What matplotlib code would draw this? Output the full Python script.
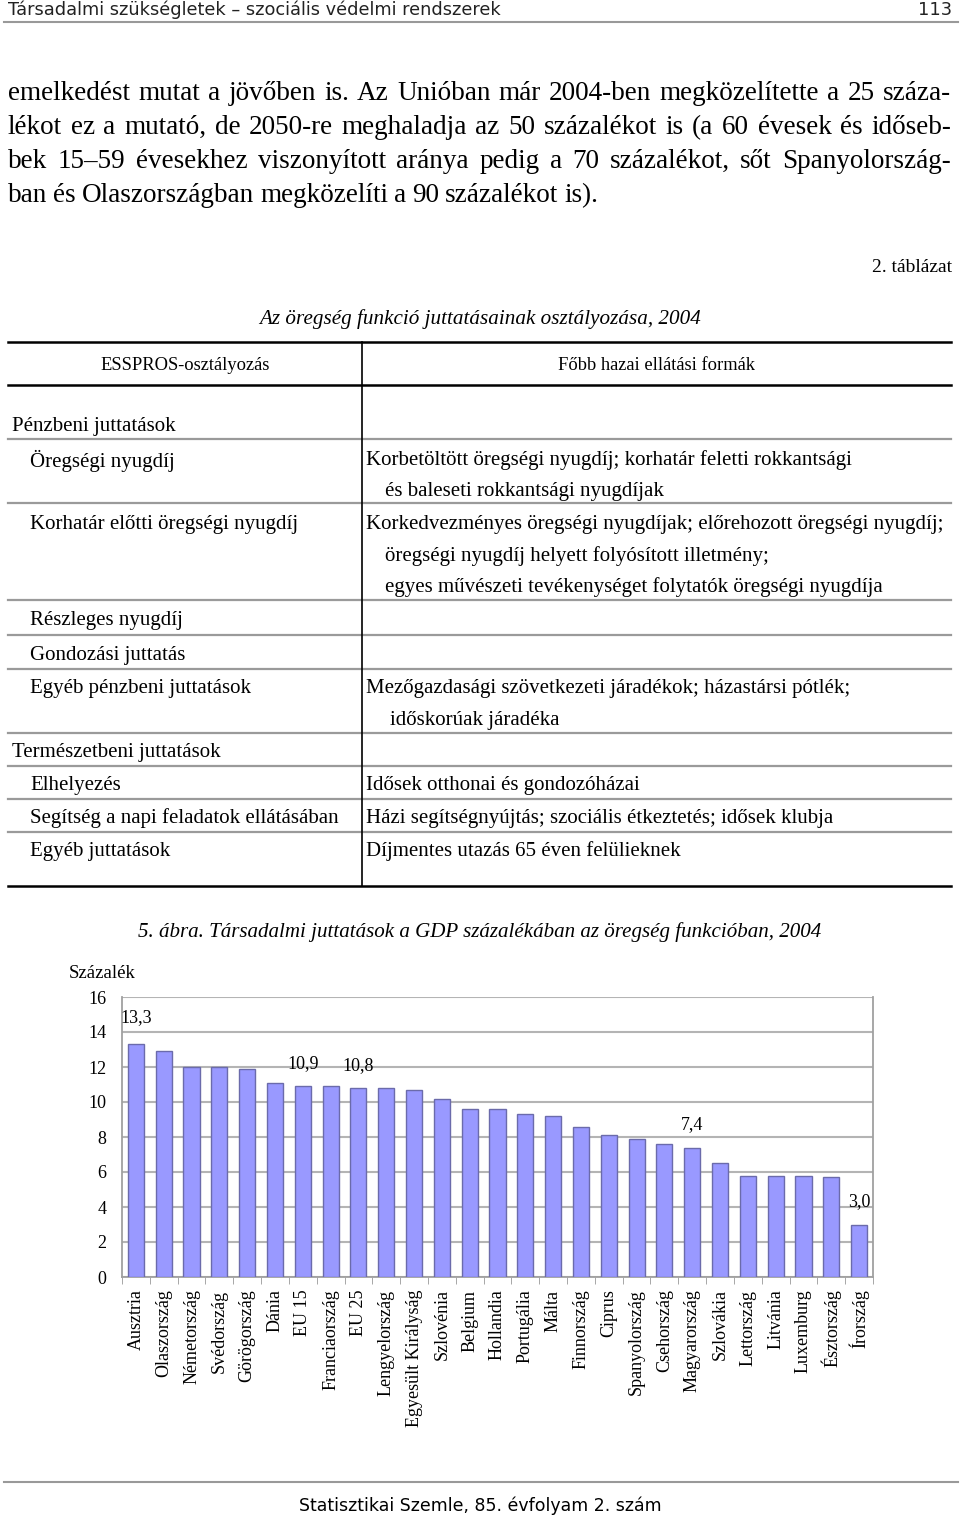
import matplotlib
matplotlib.use("Agg")
import matplotlib.pyplot as plt
from matplotlib.lines import Line2D
import numpy as np

W, H = 960, 1521

# --- adatok ---
countries = ["Ausztria", "Olaszország", "Németország", "Svédország", "Görögország",
             "Dánia", "EU 15", "Franciaország", "EU 25", "Lengyelország",
             "Egyesült Királyság", "Szlovénia", "Belgium", "Hollandia", "Portugália",
             "Málta", "Finnország", "Ciprus", "Spanyolország", "Csehország",
             "Magyarország", "Szlovákia", "Lettország", "Litvánia", "Luxemburg",
             "Észtország", "Írország"]
values = [13.3, 12.9, 12.0, 12.0, 11.9, 11.1, 10.9, 10.9, 10.8, 10.8,
          10.7, 10.2, 9.6, 9.6, 9.3, 9.2, 8.6, 8.1, 7.9, 7.6,
          7.4, 6.5, 5.8, 5.8, 5.8, 5.7, 3.0]
labelled = ["Ausztria", "EU 15", "EU 25", "Magyarország", "Írország"]
yticks = [0, 2, 4, 6, 8, 10, 12, 14, 16]

paragraph = [
    "emelkedést mutat a jövőben is. Az Unióban már 2004-ben megközelítette a 25 száza-",
    "lékot ez a mutató, de 2050-re meghaladja az 50 százalékot is (a 60 évesek és időseb-",
    "bek 15–59 évesekhez viszonyított aránya pedig a 70 százalékot, sőt Spanyolország-",
    "ban és Olaszországban megközelíti a 90 százalékot is).",
]

# (szöveg, x, y) a táblázat cellái
left_col = [("Pénzbeni juttatások", 12, 425), ("Öregségi nyugdíj", 30, 459),
            ("Korhatár előtti öregségi nyugdíj", 30, 523), ("Részleges nyugdíj", 30, 619),
            ("Gondozási juttatás", 30, 654), ("Egyéb pénzbeni juttatások", 30, 687),
            ("Természetbeni juttatások", 12, 751), ("Elhelyezés", 30, 784),
            ("Segítség a napi feladatok ellátásában", 30, 817), ("Egyéb juttatások", 30, 850)]
right_col = [("Korbetöltött öregségi nyugdíj; korhatár feletti rokkantsági", 366, 459),
             ("és baleseti rokkantsági nyugdíjak", 385, 490),
             ("Korkedvezményes öregségi nyugdíjak; előrehozott öregségi nyugdíj;", 366, 523),
             ("öregségi nyugdíj helyett folyósított illetmény;", 385, 555),
             ("egyes művészeti tevékenységet folytatók öregségi nyugdíja", 385, 586),
             ("Mezőgazdasági szövetkezeti járadékok; házastársi pótlék;", 366, 687),
             ("időskorúak járadéka", 390, 719),
             ("Idősek otthonai és gondozóházai", 366, 784),
             ("Házi segítségnyújtás; szociális étkeztetés; idősek klubja", 366, 817),
             ("Díjmentes utazás 65 éven felülieknek", 366, 850)]
row_lines = [439, 503, 600, 635, 669, 733, 766, 799, 832]

serif = "Liberation Serif"
fig = plt.figure(figsize=(W / 100, H / 100), dpi=100)


def fx(x):
    return x / W


def fy(y):
    return 1 - y / H


def hline(y, x0, x1, color, lw):
    fig.add_artist(Line2D([fx(x0), fx(x1)], [fy(y), fy(y)], color=color, lw=lw,
                          transform=fig.transFigure))


def txt(x, y, s, size, **kw):
    kw.setdefault("family", serif)
    kw.setdefault("va", "center")
    return fig.text(fx(x), fy(y), s, fontsize=size, **kw)


# fejléc / lábléc
txt(8, 10, "Társadalmi szükségletek – szociális védelmi rendszerek", 12.8, family="DejaVu Sans", color="#222222")
txt(952, 10, "113", 12.8, family="DejaVu Sans", ha="right", color="#222222")
hline(22, 4, 958, "#999999", 1.5)
hline(1482, 4, 958, "#999999", 1.5)
txt(480, 1506, "Statisztikai Szemle, 85. évfolyam 2. szám", 12.5, family="DejaVu Sans", ha="center")

# sorkizárt bekezdés
r = fig.canvas.get_renderer()
for i, line in enumerate(paragraph):
    y = 93 + i * 34.3
    words = line.split(" ")
    ts = [txt(0, y, w, 19.5) for w in words]
    ws = [t.get_window_extent(r).width for t in ts]
    last = i == len(paragraph) - 1
    gap = 6 if last else (951 - 8 - sum(ws)) / (len(words) - 1)
    x = 8
    for t, w in zip(ts, ws):
        t.set_position((fx(x), fy(y)))
        x += w + gap

# táblázat
txt(952, 268, "2. táblázat", 14, ha="right")
txt(480, 319, "Az öregség funkció juttatásainak osztályozása, 2004", 15.2, ha="center", style="italic")
hline(342, 8, 951, "black", 1.8)
hline(385, 8, 951, "black", 1.8)
hline(886, 8, 951, "black", 1.8)
for y in row_lines:
    hline(y, 8, 951, "#9a9a9a", 1.6)
fig.add_artist(Line2D([fx(362), fx(362)], [fy(342), fy(886)], color="black", lw=1.2,
                      transform=fig.transFigure))
txt(185, 365, "ESSPROS-osztályozás", 13.3, ha="center")
txt(657, 365, "Főbb hazai ellátási formák", 13.3, ha="center")
for s, x, y in left_col + right_col:
    txt(x, y + 1.5, s, 15)

# ábra
txt(480, 932, "5. ábra. Társadalmi juttatások a GDP százalékában az öregség funkcióban, 2004",
    15.1, ha="center", style="italic")
txt(69, 973, "Százalék", 13.5)

ax = fig.add_axes([fx(122), fy(1277), fx(873) - fx(122), (1277 - 997) / H])
xpos = np.arange(len(countries))
ax.bar(xpos, values, width=0.58, color="#9999ff", edgecolor="#6b6bab", linewidth=1, zorder=3)
ax.set_xlim(-0.5, len(countries) - 0.5)
ax.set_ylim(0, 16)
ax.set_yticks(yticks)
ax.set_yticklabels([str(t) for t in yticks], family=serif, fontsize=13)
ax.yaxis.grid(True, color="#b4b4b4", lw=1.5, zorder=0)
ax.set_xticks(xpos)
ax.set_xticklabels(countries, rotation=90, family=serif, fontsize=13)
ax.set_xticks(np.arange(len(countries) + 1) - 0.5, minor=True)
ax.tick_params(axis="x", which="major", length=0, pad=9)
ax.tick_params(axis="x", which="minor", length=5, color="#999999")
ax.tick_params(axis="y", length=0, pad=11)
for side in ["left", "bottom", "right"]:
    ax.spines[side].set_color("#a0a0a0")
    ax.spines[side].set_linewidth(1.3)
ax.spines["top"].set_visible(False)

for c, v, x in zip(countries, values, xpos):
    if c in labelled:
        off = 1.5 if c == "Ausztria" else 1.3
        ax.text(x, v + off, f"{v:.1f}".replace(".", ","), ha="center", va="center",
                family=serif, fontsize=13)

fig.savefig("out.png", dpi=100)
